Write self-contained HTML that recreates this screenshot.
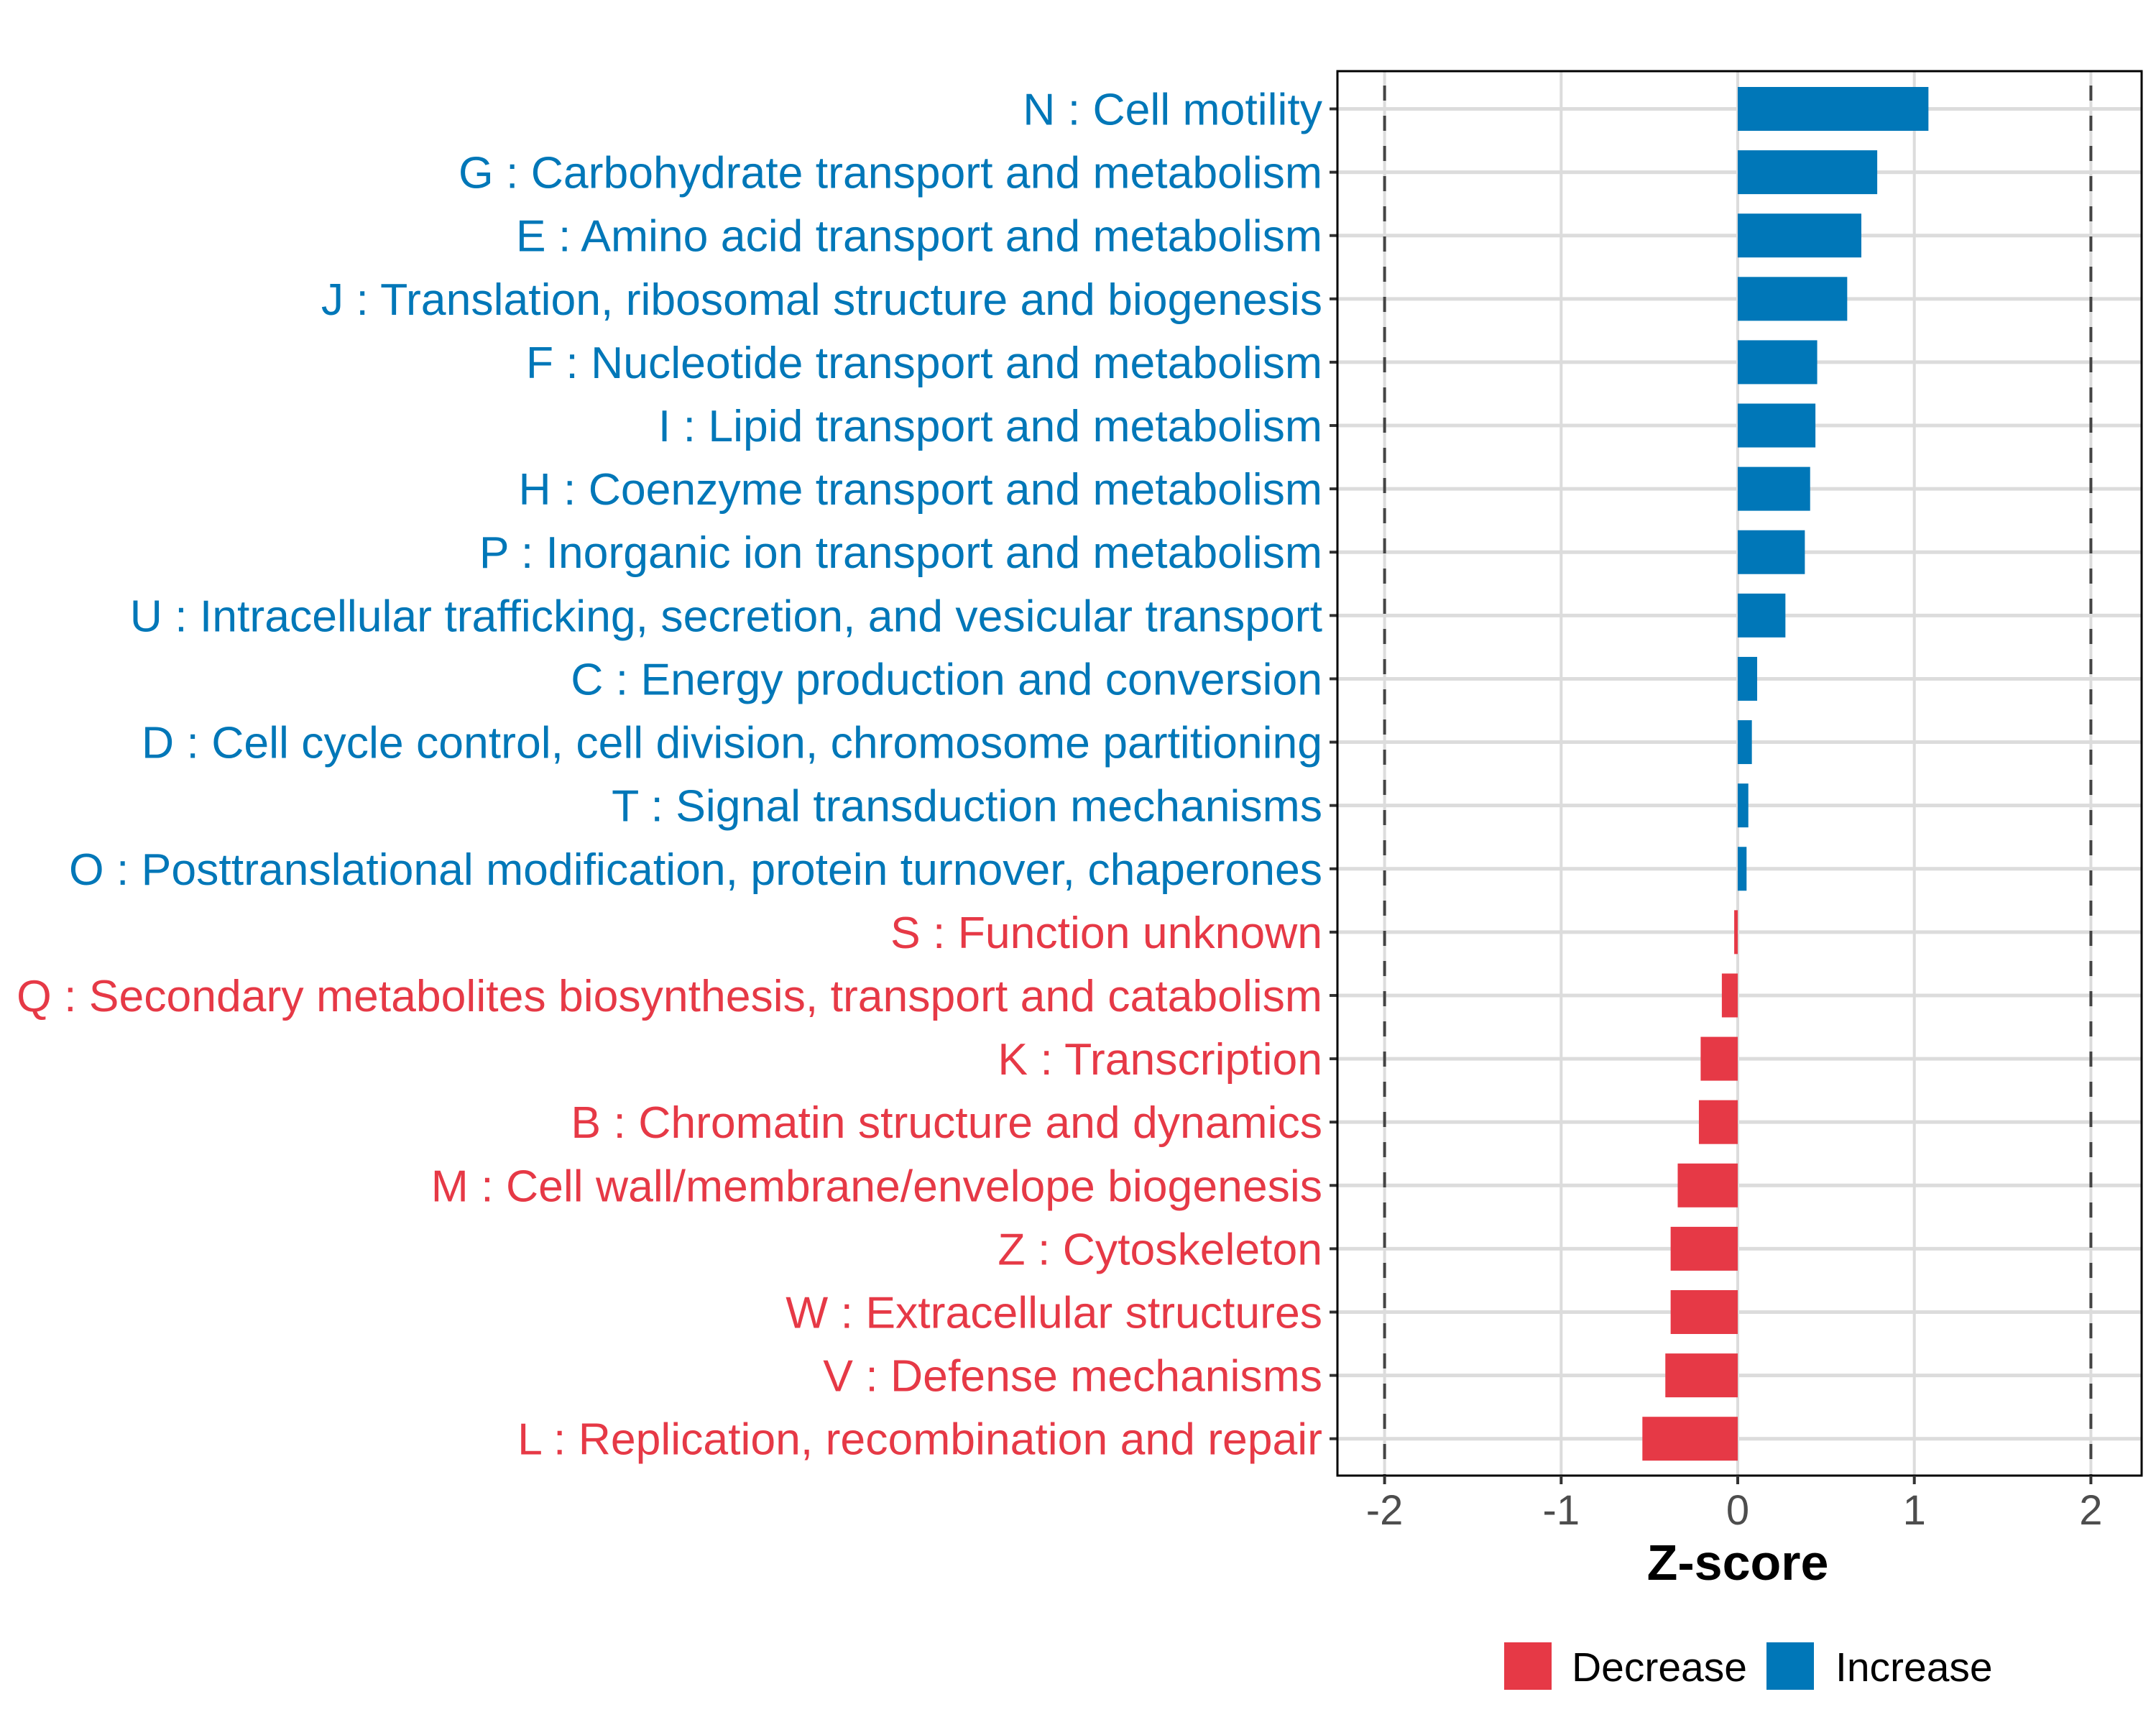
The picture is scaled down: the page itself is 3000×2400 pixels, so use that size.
<!DOCTYPE html>
<html><head><meta charset="utf-8"><style>
html,body{margin:0;padding:0;background:#fff;}
svg{display:block;font-family:"Liberation Sans",Arial,sans-serif;}
</style></head><body>
<svg id="chart" width="3000" height="2400" viewBox="0 0 3000 2400" xmlns="http://www.w3.org/2000/svg">
<rect x="0" y="0" width="3000" height="2400" fill="#fff"/>
<g id="grid"></g><g id="bars"></g><g id="labels"></g><g id="axis"></g>
<text x="2418" y="2198" font-size="70" font-weight="bold" text-anchor="middle" fill="#000">Z-score</text>
<g>
<rect x="2093" y="2285" width="66" height="66" fill="#e63946"/>
<text x="2187" y="2339" font-size="57" fill="#000">Decrease</text>
<rect x="2458" y="2285" width="66" height="66" fill="#0077b8"/>
<text x="2554" y="2339" font-size="57" fill="#000">Increase</text>
</g>
</svg>
<script>
const categories = ["N : Cell motility","G : Carbohydrate transport and metabolism","E : Amino acid transport and metabolism","J : Translation, ribosomal structure and biogenesis","F : Nucleotide transport and metabolism","I : Lipid transport and metabolism","H : Coenzyme transport and metabolism","P : Inorganic ion transport and metabolism","U : Intracellular trafficking, secretion, and vesicular transport","C : Energy production and conversion","D : Cell cycle control, cell division, chromosome partitioning","T : Signal transduction mechanisms","O : Posttranslational modification, protein turnover, chaperones","S : Function unknown","Q : Secondary metabolites biosynthesis, transport and catabolism","K : Transcription","B : Chromatin structure and dynamics","M : Cell wall/membrane/envelope biogenesis","Z : Cytoskeleton","W : Extracellular structures","V : Defense mechanisms","L : Replication, recombination and repair"];
const zscores = [1.08,0.79,0.70,0.62,0.45,0.44,0.41,0.38,0.27,0.11,0.08,0.06,0.05,-0.02,-0.09,-0.21,-0.22,-0.34,-0.38,-0.38,-0.41,-0.54];
const xTicks = [-2,-1,0,1,2];
const xTickLabels = ["-2","-1","0","1","2"];
const thresholds = [-2,2];

const NS="http://www.w3.org/2000/svg";
const L=1861,R=2980,T=99,B=2053;
const x0=2418, unit=245.7;
const xs=v=>x0+v*unit;
const rowTop=151.5, rowStep=(2001.7-151.5)/21;
const ys=i=>rowTop+i*rowStep;
const barH=61;
function mk(tag,attrs,parent){const e=document.createElementNS(NS,tag);for(const k in attrs)e.setAttribute(k,attrs[k]);parent.appendChild(e);return e;}
const grid=document.getElementById('grid'),bars=document.getElementById('bars'),labels=document.getElementById('labels'),axis=document.getElementById('axis');
xTicks.forEach(v=>{const g=mk('line',{x1:xs(v),x2:xs(v),y1:T,y2:B,stroke:'#dcdcdc','stroke-width':4},grid);
 
 });
categories.forEach((c,i)=>{const g=mk('line',{x1:L,x2:R,y1:ys(i),y2:ys(i),stroke:'#dcdcdc','stroke-width':5},grid);
 
 });
thresholds.forEach(v=>{const d=mk('line',{x1:xs(v),x2:xs(v),y1:T,y2:B,stroke:'#444','stroke-width':4,'stroke-dasharray':'21 21','stroke-dashoffset':'-20'},grid);
 
 });
zscores.forEach((v,i)=>{const col=v>=0?'#0077b8':'#e63946';
 const a=Math.min(xs(0),xs(v)),w=Math.abs(xs(v)-xs(0));
 const r=mk('rect',{x:a,y:ys(i)-barH/2,width:w,height:barH,fill:col},bars);
 
 
 const t=mk('text',{x:1840,y:ys(i)+22,'font-size':62.5,'text-anchor':'end',fill:col},labels);
 t.textContent=categories[i];
 
 
 const tk=mk('line',{x1:1850,x2:L,y1:ys(i),y2:ys(i),stroke:'#333','stroke-width':4},axis);
 
 });
const frame=mk('rect',{x:L,y:T,width:R-L,height:B-T,fill:'none',stroke:'#000','stroke-width':3},axis);


xTicks.forEach((v,i)=>{const tk=mk('line',{x1:xs(v),x2:xs(v),y1:B,y2:B+12,stroke:'#333','stroke-width':4},axis);
 
 
 const t=mk('text',{x:xs(v),y:B+68,'font-size':58,'text-anchor':'middle',fill:'#4d4d4d'},axis);
 t.textContent=xTickLabels[i];
 
 });
</script>
</body></html>
